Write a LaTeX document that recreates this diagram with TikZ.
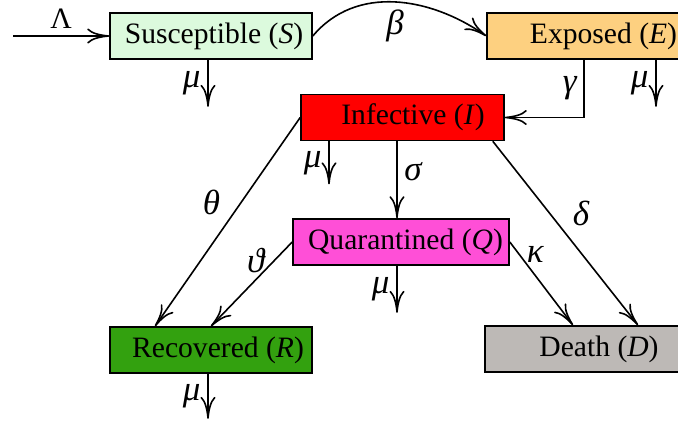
\documentclass[tikz,border=0pt]{standalone}
\usepackage{fontspec}
\setmainfont{Liberation Serif}
\usetikzlibrary{arrows.meta,positioning}
\definecolor{CSus}{HTML}{DCFADD}
\definecolor{CExp}{HTML}{FDD080}
\definecolor{CInf}{HTML}{FF0000}
\definecolor{CQua}{HTML}{FF4FD7}
\definecolor{CRec}{HTML}{33A10F}
\definecolor{CDea}{HTML}{BDB9B6}
\newcommand{\rt}[1]{\textit{#1}}% compartment letters
\newcommand{\gk}[1]{{\fontsize{17.5}{20}\selectfont\itshape #1}}% rate symbols

\begin{document}
\begin{tikzpicture}[x=0.5pt,y=0.5pt,
    every node/.style={font=\fontsize{14.8}{17}\selectfont},
    comp/.style={rectangle,draw=black,line width=0.8pt,
                 minimum width=101pt,minimum height=23pt,inner xsep=2pt},
    flow/.style={-{To[length=11pt,width=7.5pt]},line width=0.8pt}]
    \path[use as bounding box] (0,0) rectangle (678,423);
    \clip (0,0) rectangle (678,423);
    % compartments
    \node[comp,fill=CSus] (S) at (211,387) {\hspace*{3pt}Susceptible (\rt{S})};
    \node[comp,fill=CExp] (E) at (588,387) {\hspace*{15.5pt}Exposed (\rt{E})};
    \node[comp,fill=CInf,minimum width=101.5pt] (I) at (402.5,305.5) {\hspace*{10.5pt}Infective (\rt{I})};
    \node[comp,fill=CQua,minimum width=108pt] (Q) at (401,181) {\hspace*{4.5pt}Quarantined (\rt{Q})};
    \node[comp,fill=CRec] (R) at (211,73) {\hspace*{7pt}Recovered (\rt{R})};
    \node[comp,fill=CDea] (D) at (586,74) {\hspace*{13pt}Death (\rt{D})};
    % recruitment and transfers
    \coordinate (in) at (13,387);
    \draw[flow] (in) -- node[midway,above] {Λ} (S.west);
    \draw[flow] (S.east) to[out=50,in=145] node[midway,below] {\gk{β}} (E.west);
    \draw[flow] ([xshift=-2pt]E.south) |- node[pos=0.25,left] {\gk{γ}} (I.east);
    \draw[flow] ([xshift=-2.75pt]I.south) -- node[pos=0.4,right] {\gk{σ}} ([xshift=-2pt]Q.north);
    \draw[flow] (I.west) -- node[midway,above left] {\gk{θ}} ([xshift=-28pt]R.north);
    \draw[flow] ([xshift=-6pt]I.south east) -- node[midway,above right] {\gk{δ}} ([xshift=26pt]D.north);
    \draw[flow] (Q.west) -- node[pos=0.45,above] {\gk{ϑ}} (R.north);
    \draw[flow] (Q.east) -- node[pos=0.15,right] {\gk{κ}} ([xshift=-6.5pt]D.north);
    % natural deaths
    \draw[flow] ([xshift=-1.5pt]S.south) -- node[midway,left] {\gk{μ}} ++(0,-47);
    \draw[flow] ([xshift=34pt]E.south) -- node[midway,left] {\gk{μ}} ++(0,-47);
    \draw[flow] ([xshift=-36.75pt]I.south) -- node[midway,left] {\gk{μ}} ++(0,-43);
    \draw[flow] ([xshift=-2pt]Q.south) -- node[midway,left] {\gk{μ}} ++(0,-47);
    \draw[flow] ([xshift=-1.5pt]R.south) -- node[midway,left] {\gk{μ}} ++(0,-45);
\end{tikzpicture}
\end{document}
